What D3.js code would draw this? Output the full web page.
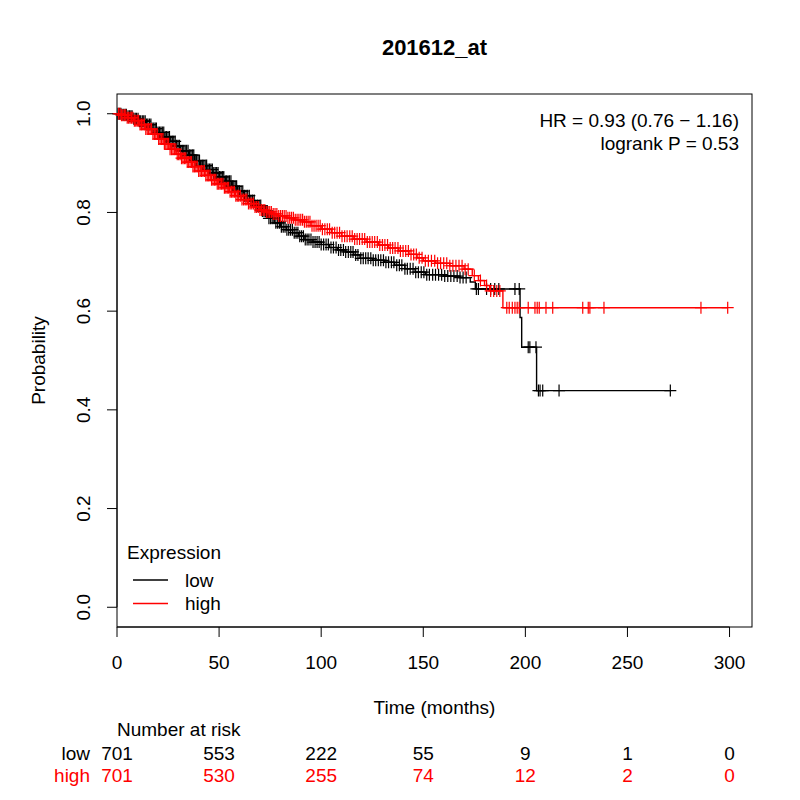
<!DOCTYPE html>
<html>
<head>
<meta charset="utf-8">
<script src="https://cdn.jsdelivr.net/npm/d3@7"></script>
<style>
  html, body { margin: 0; padding: 0; background: #fff; }
  svg { display: block; font-family: "Liberation Sans", Arial, Helvetica, sans-serif; }
</style>
</head>
<body>
<svg id="chart" width="800" height="800"></svg>
<script>
// ---------------- DATA ----------------
const title = "201612_at";
const groups = ["low", "high"];
const groupColors = ["#000000", "#FF0000"];

// Kaplan-Meier steps (time in months, survival after the step)
const lowTimes = [0, 2, 5, 8, 11, 14, 17, 20, 23, 26, 29, 31, 35, 38, 41, 44, 47, 50, 53, 56, 59, 62, 65, 68, 71, 74, 77, 80, 83, 86, 89, 92, 96, 100, 104, 108, 112, 116, 119, 125, 131, 136, 141, 146, 151, 160, 168, 173, 175.5, 197.4, 198.2, 205.5];
const lowSurv  = [1.000, 0.998, 0.995, 0.990, 0.985, 0.978, 0.970, 0.962, 0.953, 0.944, 0.935, 0.925, 0.916, 0.905, 0.895, 0.887, 0.880, 0.872, 0.863, 0.853, 0.843, 0.834, 0.824, 0.814, 0.803, 0.788, 0.779, 0.771, 0.765, 0.759, 0.752, 0.745, 0.740, 0.735, 0.729, 0.724, 0.720, 0.714, 0.707, 0.703, 0.699, 0.693, 0.686, 0.679, 0.674, 0.671, 0.668, 0.659, 0.645, 0.587, 0.527, 0.439];

const highTimes = [0, 2, 5, 8, 11, 14, 17, 20, 23, 26, 29, 31, 34, 37, 40, 43, 46, 49, 52, 55, 58, 61, 64, 67, 70, 73, 76, 79, 83, 87, 91, 95, 100, 105, 110, 116, 122, 128, 133, 138, 143, 147, 150, 156, 163, 170, 174, 177, 180, 182.5, 189];
const highSurv  = [1.000, 0.997, 0.992, 0.986, 0.978, 0.969, 0.959, 0.949, 0.939, 0.928, 0.918, 0.910, 0.902, 0.893, 0.884, 0.875, 0.866, 0.858, 0.850, 0.842, 0.834, 0.826, 0.818, 0.811, 0.805, 0.801, 0.797, 0.793, 0.789, 0.785, 0.781, 0.773, 0.766, 0.759, 0.752, 0.746, 0.740, 0.734, 0.728, 0.722, 0.715, 0.708, 0.702, 0.697, 0.692, 0.685, 0.672, 0.662, 0.652, 0.641, 0.607];

// Censoring times (months)
const lowCensor = [0.5, 1.2, 1.9, 2.5, 3.3, 4.0, 4.6, 5.4, 6.1, 6.8, 7.4, 8.2, 8.9, 9.5, 10.3, 11.0, 11.6, 12.4, 13.1, 13.8, 14.5, 15.1, 15.9, 16.6, 17.2, 18.0, 18.7, 19.3, 20.1, 20.8, 21.5, 22.2, 22.9, 23.6, 24.3, 25.0, 25.7, 26.4, 27.1, 27.8, 28.5, 29.2, 29.9, 30.6, 31.3, 32.0, 32.7, 33.4, 34.1, 34.8, 35.5, 36.2, 36.9, 37.6, 38.3, 39.0, 39.7, 40.4, 41.1, 41.8, 42.5, 43.2, 43.9, 44.6, 45.3, 46.0, 46.7, 47.4, 48.1, 48.8, 49.5, 50.2, 50.9, 51.6, 52.3, 53.0, 53.7, 54.4, 55.1, 55.8, 56.5, 57.2, 57.9, 58.6, 59.3, 60.0, 60.8, 61.6, 62.4, 63.2, 64.0, 64.8, 65.6, 66.4, 67.2, 68.0, 68.8, 69.6, 70.4, 71.2, 72.0, 72.8, 73.6, 74.4, 75.2, 76.0, 76.9, 77.8, 78.7, 79.6, 80.5, 81.4, 82.3, 83.2, 84.1, 85.0, 85.9, 86.8, 87.7, 88.6, 89.5, 90.4, 91.3, 92.2, 93.1, 94.0, 95.0, 96.0, 97.0, 98.0, 99.0, 100.0, 101.2, 102.4, 103.5, 104.8, 106.0, 107.3, 108.5, 109.6, 110.9, 112.0, 113.3, 114.5, 115.6, 116.9, 118.0, 119.4, 120.6, 121.8, 123.0, 124.3, 125.5, 126.7, 128.0, 129.2, 130.5, 131.7, 133.0, 134.4, 135.6, 137.0, 138.3, 139.5, 141.0, 142.2, 143.6, 145.0, 146.3, 147.6, 149.0, 150.3, 151.7, 153.0, 154.6, 156.0, 157.5, 159.0, 160.5, 162.0, 163.5, 165.0, 166.6, 168.0, 169.5, 171.0, 176.0, 177.0, 181.0, 183.0, 185.0, 187.0, 194.9, 197.0, 201.4, 202.2, 205.2, 206.4, 207.2, 208.5, 216.5, 271.0];
const highCensor = [0.8, 1.5, 2.2, 2.9, 3.6, 4.3, 5.0, 5.7, 6.4, 7.1, 7.8, 8.5, 9.2, 9.9, 10.6, 11.3, 12.0, 12.7, 13.4, 14.1, 14.8, 15.5, 16.2, 16.9, 17.6, 18.3, 19.0, 19.7, 20.4, 21.1, 21.8, 22.5, 23.2, 23.9, 24.6, 25.3, 26.0, 26.7, 27.4, 28.1, 28.8, 29.5, 30.2, 30.9, 31.6, 32.3, 33.0, 33.7, 34.4, 35.1, 35.8, 36.5, 37.2, 37.9, 38.6, 39.3, 40.0, 40.7, 41.4, 42.1, 42.8, 43.5, 44.2, 44.9, 45.6, 46.3, 47.0, 47.7, 48.4, 49.1, 49.8, 50.5, 51.2, 51.9, 52.6, 53.3, 54.0, 54.7, 55.4, 56.1, 56.8, 57.5, 58.2, 58.9, 59.6, 60.4, 61.2, 62.0, 62.8, 63.6, 64.4, 65.2, 66.0, 66.8, 67.6, 68.4, 69.2, 70.0, 70.8, 71.6, 72.4, 73.2, 74.0, 74.8, 75.6, 76.5, 77.4, 78.3, 79.2, 80.1, 81.0, 81.9, 82.8, 83.7, 84.6, 85.5, 86.4, 87.3, 88.2, 89.1, 90.0, 90.9, 91.8, 92.7, 93.6, 94.5, 95.5, 96.5, 97.5, 98.5, 99.5, 100.6, 101.8, 103.0, 104.1, 105.4, 106.6, 107.8, 109.0, 110.2, 111.5, 112.7, 114.0, 115.2, 116.4, 117.6, 118.8, 120.1, 121.3, 122.6, 123.8, 125.0, 126.2, 127.5, 128.7, 130.0, 131.2, 132.5, 133.8, 135.0, 136.2, 137.6, 138.8, 140.1, 141.4, 142.7, 144.0, 145.3, 146.6, 148.0, 149.4, 151.0, 152.5, 154.0, 155.6, 157.0, 158.5, 160.0, 161.5, 163.0, 164.5, 166.0, 167.5, 169.0, 170.5, 172.0, 175.0, 178.0, 181.0, 183.0, 184.5, 186.0, 187.5, 190.9, 192.1, 193.6, 194.9, 196.0, 197.0, 201.4, 204.7, 205.8, 206.8, 210.1, 213.4, 228.1, 230.8, 231.6, 238.5, 286.0, 299.1];

// Axis ticks
const xTicks = [0, 50, 100, 150, 200, 250, 300];
const yTicks = [0.0, 0.2, 0.4, 0.6, 0.8, 1.0];

// Number at risk at each x tick
const riskLow  = [701, 553, 222, 55, 9, 1, 0];
const riskHigh = [701, 530, 255, 74, 12, 2, 0];

const statLines = ["HR = 0.93 (0.76 \u2212 1.16)", "logrank P = 0.53"];
const legendTitle = "Expression";

// ---------------- DRAWING ----------------
const svg = d3.select("#chart");
const FS = 19;
const half = FS * 0.36; // half of digit cap-height, for vertical centring

const x = d3.scaleLinear().domain([0, 311]).range([117, 752]);
const y = d3.scaleLinear().domain([-0.04, 1.04]).range([627, 94]);

// Title
svg.append("text")
  .attr("x", (117 + 752) / 2).attr("y", 55)
  .attr("text-anchor", "middle")
  .attr("font-weight", "bold").attr("font-size", 22)
  .text(title);

// X axis
const xAxis = svg.append("g").attr("transform", "translate(0,627)");
xAxis.append("line")
  .attr("x1", x(xTicks[0])).attr("x2", x(xTicks[xTicks.length - 1]))
  .attr("y1", 0).attr("y2", 0).attr("stroke", "#000");
xTicks.forEach(t => {
  xAxis.append("line").attr("x1", x(t)).attr("x2", x(t)).attr("y1", 0).attr("y2", 10).attr("stroke", "#000");
  xAxis.append("text").attr("x", x(t)).attr("y", 35 + half).attr("text-anchor", "middle")
    .attr("font-size", FS).text(t);
});

// Y axis
const yAxis = svg.append("g").attr("transform", "translate(117,0)");
yAxis.append("line")
  .attr("x1", 0).attr("x2", 0)
  .attr("y1", y(yTicks[0])).attr("y2", y(yTicks[yTicks.length - 1])).attr("stroke", "#000");
yTicks.forEach(v => {
  yAxis.append("line").attr("x1", 0).attr("x2", -10).attr("y1", y(v)).attr("y2", y(v)).attr("stroke", "#000");
  yAxis.append("text")
    .attr("transform", `translate(${-34 + half},${y(v)}) rotate(-90)`)
    .attr("text-anchor", "middle")
    .attr("font-size", FS).text(v.toFixed(1));
});

// Axis titles
svg.append("text")
  .attr("x", (117 + 752) / 2).attr("y", 707 + half)
  .attr("text-anchor", "middle").attr("font-size", FS)
  .text("Time (months)");
svg.append("text")
  .attr("transform", `translate(${38.5 + half},${(94 + 627) / 2}) rotate(-90)`)
  .attr("text-anchor", "middle").attr("font-size", FS)
  .text("Probability");

// Plot box
svg.append("rect")
  .attr("x", 117).attr("y", 94).attr("width", 752 - 117).attr("height", 627 - 94)
  .attr("fill", "none").attr("stroke", "#000").attr("stroke-width", 1);

// Curves
function survAt(times, surv, t) {
  const i = d3.bisectRight(times, t) - 1;
  return surv[Math.max(0, i)];
}
const line = d3.line().x(d => x(d[0])).y(d => y(d[1])).curve(d3.curveStepAfter);

const series = [
  { times: lowTimes, surv: lowSurv, censor: lowCensor, color: groupColors[0] },
  { times: highTimes, surv: highSurv, censor: highCensor, color: groupColors[1] }
];

series.forEach(s => {
  const endT = Math.max(d3.max(s.censor), d3.max(s.times));
  const pts = s.times.map((t, i) => [t, s.surv[i]]);
  pts.push([endT, s.surv[s.surv.length - 1]]);
  const g = svg.append("g");
  g.append("path").attr("d", line(pts)).attr("fill", "none")
    .attr("stroke", s.color).attr("stroke-width", 1.4);
  g.selectAll("path.cm").data(s.censor).enter().append("path")
    .attr("class", "cm")
    .attr("d", t => {
      const px = x(t), py = y(survAt(s.times, s.surv, t));
      return `M${px - 6},${py}H${px + 6}M${px},${py - 6}V${py + 6}`;
    })
    .attr("stroke", s.color).attr("stroke-width", 1.2).attr("fill", "none");
});

// Stats text
statLines.forEach((txt, i) => {
  svg.append("text").attr("x", 739).attr("y", 120 + half + i * 23)
    .attr("text-anchor", "end").attr("font-size", FS).text(txt);
});

// Legend
svg.append("text").attr("x", 127).attr("y", 552 + half).attr("font-size", FS).text(legendTitle);
groups.forEach((gname, i) => {
  const ly = 580 + i * 23.5;
  svg.append("line").attr("x1", 133).attr("x2", 168).attr("y1", ly).attr("y2", ly)
    .attr("stroke", groupColors[i]).attr("stroke-width", 1.3);
  svg.append("text").attr("x", 185).attr("y", ly + half).attr("font-size", FS).text(gname);
});

// Number at risk
svg.append("text").attr("x", 117).attr("y", 729 + half).attr("font-size", FS).text("Number at risk");
const riskRows = [riskLow, riskHigh];
riskRows.forEach((row, r) => {
  const ry = 753 + half + r * 22;
  svg.append("text").attr("x", 90).attr("y", ry).attr("text-anchor", "end")
    .attr("font-size", FS).attr("fill", groupColors[r]).text(groups[r]);
  row.forEach((n, i) => {
    svg.append("text").attr("x", x(xTicks[i])).attr("y", ry).attr("text-anchor", "middle")
      .attr("font-size", FS).attr("fill", groupColors[r]).text(n);
  });
});
</script>
</body>
</html>
